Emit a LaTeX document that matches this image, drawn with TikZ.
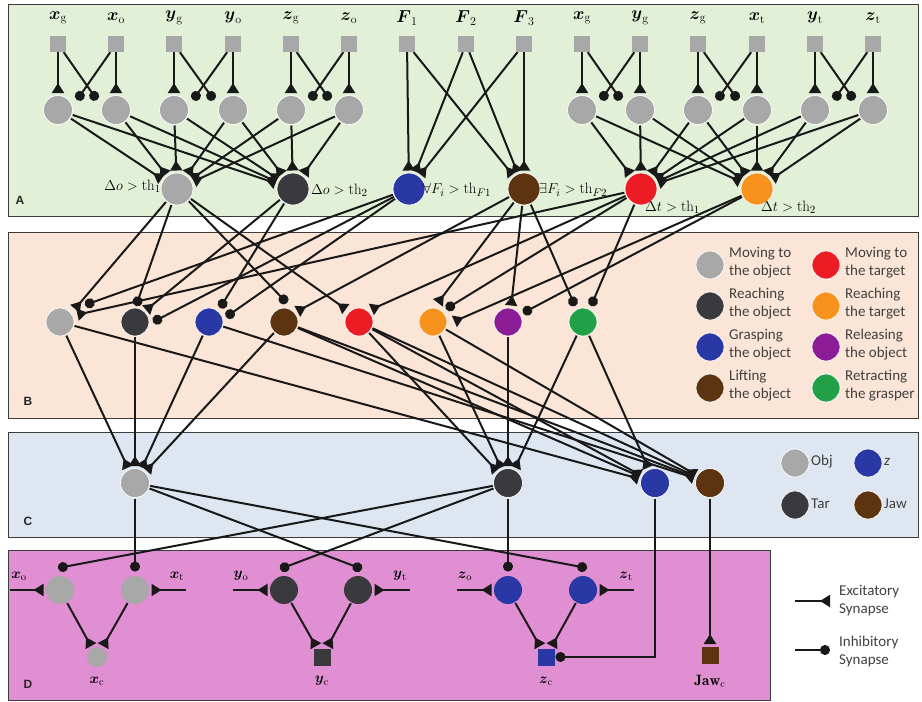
\documentclass[tikz,border=0pt]{standalone}
\usepackage{fontspec}
\usepackage{amsmath}
\usetikzlibrary{arrows.meta,calc}
\newfontfamily\legfont{Carlito}
\newfontfamily\panfont{Liberation Sans}
\definecolor{bgA}{RGB}{226,240,216}
\definecolor{bgB}{RGB}{251,229,214}
\definecolor{bgC}{RGB}{222,230,242}
\definecolor{bgD}{RGB}{224,144,210}
\definecolor{frm}{RGB}{60,60,60}
\definecolor{ngray}{RGB}{168,168,168}
\definecolor{ndark}{RGB}{58,58,62}
\definecolor{nblue}{RGB}{42,56,165}
\definecolor{nbrown}{RGB}{92,52,16}
\definecolor{nred}{RGB}{236,28,36}
\definecolor{norange}{RGB}{247,146,30}
\definecolor{npurple}{RGB}{140,28,150}
\definecolor{ngreen}{RGB}{34,160,72}
\definecolor{lnk}{RGB}{25,25,25}
\definecolor{legtxt}{RGB}{64,64,64}
\pgfdeclarelayer{bg}\pgfdeclarelayer{wires}\pgfsetlayers{bg,wires,main}
\begin{document}
\begin{tikzpicture}[x=1pt,y=-1pt,
 sqn/.style={rectangle,fill=ngray,minimum size=16pt,inner sep=0pt},
 neu/.style={circle,minimum size=29pt,inner sep=0pt,draw=white,line width=0.7pt,outer sep=1pt},
 thr/.style={neu,minimum size=32pt},
 bn/.style={neu,minimum size=28pt},
 csq/.style={rectangle,minimum size=17pt,inner sep=0pt,outer sep=1pt},
 exc/.style={draw=lnk,line width=2pt,-{Triangle[reversed,length=10pt,width=12pt]},shorten >=1.5pt},
 inh/.style={draw=lnk,line width=2pt,-{Circle[length=10pt]}},
 lab/.style={font=\fontsize{17}{20}\selectfont},
 dlab/.style={font=\fontsize{15}{18}\selectfont},
 tlab/.style={font=\fontsize{15}{17}\selectfont,inner sep=1pt},
 legt/.style={font=\legfont\fontsize{15}{18}\selectfont,text=legtxt,align=left,anchor=west,inner sep=0pt},
 panl/.style={font=\panfont\bfseries\fontsize{12}{14}\selectfont,text=black!85}
]
\useasboundingbox (0,0) rectangle (922,702);
% panels
\begin{pgfonlayer}{bg}
\filldraw[fill=bgA,draw=frm,line width=0.8pt] (8,4) rectangle (918,216);
\filldraw[fill=bgB,draw=frm,line width=0.8pt] (8,232) rectangle (918,418);
\filldraw[fill=bgC,draw=frm,line width=0.8pt] (8,432) rectangle (918,537);
\filldraw[fill=bgD,draw=frm,line width=0.8pt] (8,550) rectangle (770,700);
\end{pgfonlayer}
\node[panl] (pA) at (20,200) {A};
\node[panl] (pB) at (28,401) {B};
\node[panl] (pC) at (28,521) {C};
\node[panl] (pD) at (28,684) {D};

% ---------- panel A ----------
\foreach \i/\x/\t in {1/58/{\boldsymbol{x}_{\mathrm{g}}},2/116/{\boldsymbol{x}_{\mathrm{o}}},3/174/{\boldsymbol{y}_{\mathrm{g}}},4/233/{\boldsymbol{y}_{\mathrm{o}}},5/291/{\boldsymbol{z}_{\mathrm{g}}},6/349/{\boldsymbol{z}_{\mathrm{o}}},7/407/{\boldsymbol{F}_{1}},8/466/{\boldsymbol{F}_{2}},9/524/{\boldsymbol{F}_{3}},10/582/{\boldsymbol{x}_{\mathrm{g}}},11/640/{\boldsymbol{y}_{\mathrm{g}}},12/698/{\boldsymbol{z}_{\mathrm{g}}},13/757/{\boldsymbol{x}_{\mathrm{t}}},14/815/{\boldsymbol{y}_{\mathrm{t}}},15/873/{\boldsymbol{z}_{\mathrm{t}}}}
{
 \node[lab] (l\i) at (\x,18) {$\t$};
 \node[sqn] (s\i) at (\x,44) {};
}
\foreach \i/\x in {1/58,2/116,3/174,4/233,5/291,6/349,10/582,11/640,12/698,13/757,14/815,15/873}
 \node[neu,fill=ngray] (c\i) at (\x,110) {};

\node[thr,fill=ngray] (t1) at (177,189) {};
\node[thr,fill=ndark] (t2) at (293,189) {};
\node[thr,fill=nblue] (t3) at (409,189) {};
\node[thr,fill=nbrown] (t4) at (524,189) {};
\node[thr,fill=nred] (t5) at (641,189) {};
\node[thr,fill=norange] (t6) at (757,189) {};

\node[tlab,anchor=east] (th1) at (162,186) {$\Delta o > \mathrm{th}_1$};
\node[tlab,anchor=west] (th2) at (310,190) {$\Delta o > \mathrm{th}_2$};
\node[tlab,anchor=west] (th3) at (422,190) {$\forall F_i > \mathrm{th}_{F1}$};
\node[tlab,anchor=west] (th4) at (538,190) {$\exists F_i > \mathrm{th}_{F2}$};
\node[tlab,anchor=west] (th5) at (644,207) {$\Delta t > \mathrm{th}_1$};
\node[tlab,anchor=west] (th6) at (760,207) {$\Delta t > \mathrm{th}_2$};

\begin{pgfonlayer}{wires}
\foreach \p/\q in {1/2,3/4,5/6,10/11,12/13,14/15} {
 \draw[exc] (s\p) -- (c\p);
 \draw[exc] (s\q) -- (c\q);
 \draw[inh] (s\q) -- ($(c\p)+(19,-10)$);
 \draw[inh] (s\p) -- ($(c\q)+(-19,-10)$);
}
\foreach \i in {1,...,6} {\draw[exc] (c\i) -- (t1); \draw[exc] (c\i) -- (t2);}
\foreach \i in {10,...,15} {\draw[exc] (c\i) -- (t5); \draw[exc] (c\i) -- (t6);}
\foreach \i in {7,8,9} {\draw[exc] (s\i) -- (t3); \draw[exc] (s\i) -- (t4);}
\end{pgfonlayer}

% ---------- panel B ----------
\foreach \i/\x/\c in {1/60/ngray,2/135/ndark,3/209/nblue,4/284/nbrown,5/359/nred,6/433/norange,7/508/npurple,8/583/ngreen}
 \node[bn,fill=\c] (b\i) at (\x,322) {};

\foreach \n/\cx/\cy/\cc/\txt in {g1/710/265/ngray/{Moving to\\the object},g2/710/306/ndark/{Reaching\\the object},g3/710/347/nblue/{Grasping\\the object},g4/710/388/nbrown/{Lifting\\the object},g5/826/265/nred/{Moving to\\the target},g6/826/306/norange/{Reaching\\the target},g7/826/347/npurple/{Releasing\\the object},g8/826/388/ngreen/{Retracting\\the grasper}}
{
 \node[bn,fill=\cc] (L\n) at (\cx,\cy) {};
 \node[legt] (T\n) at (\cx+19,\cy-2) {\txt};
}

\begin{pgfonlayer}{wires}
\draw[exc] (t1) -- ($(b1)+(14,-12)$);
\draw[exc] (t5) -- ($(b1)+(16,-7)$);
\draw[inh] (t3) -- ($(b1)+(25,-17)$);
\draw[inh] (t1) -- ($(b2)+(1,-16)$);
\draw[exc] (t2) -- ($(b2)+(10,-11)$);
\draw[inh] (t3) -- ($(b2)+(18,0)$);
\draw[inh] (t2) -- ($(b3)+(11,-14)$);
\draw[inh] (t3) -- ($(b3)+(17,-5)$);
\draw[inh] (t1) -- ($(b4)+(3,-19)$);
\draw[exc] (t4) -- ($(b4)+(12,-10)$);
\draw[exc] (t1) -- ($(b5)+(-12,-12)$);
\draw[exc] (t5) -- ($(b5)+(11,-12)$);
\draw[exc] (t4) -- ($(b6)+(4,-18)$);
\draw[inh] (t5) -- ($(b6)+(13,-13)$);
\draw[exc] (t6) -- ($(b6)+(20,0)$);
\draw[exc] (t4) -- ($(b7)+(3,-15)$);
\draw[inh] (t6) -- ($(b7)+(15,-9)$);
\draw[inh] (t4) -- ($(b8)+(-8,-16)$);
\draw[inh] (t5) -- ($(b8)+(8,-16)$);
\end{pgfonlayer}

% ---------- panel C ----------
\node[neu,fill=ngray] (obj) at (135,483) {};
\node[neu,fill=ndark] (tar) at (508,483) {};
\node[neu,fill=nblue] (zz) at (655,483) {};
\node[neu,fill=nbrown] (jaw) at (710,483) {};

\node[bn,fill=ngray] (Lobj) at (795,463) {};
\node[bn,fill=nblue] (Lz) at (868,463) {};
\node[bn,fill=ndark] (Ltar) at (795,505) {};
\node[bn,fill=nbrown] (Ljaw) at (868,505) {};
\node[legt] (Tobj) at (811,462) {Obj};
\node[legt] (Tz) at (884,462) {\itshape z};
\node[legt] (Ttar) at (811,504) {Tar};
\node[legt] (Tjaw) at (884,504) {Jaw};

\begin{pgfonlayer}{wires}
\foreach \i in {1,2,3,4} \draw[exc] (b\i) -- (obj);
\foreach \i in {5,6,7,8} \draw[exc] (b\i) -- (tar);
\foreach \i in {1,4,5,8} \draw[exc] (b\i) -- (zz);
\foreach \i in {3,4,5,6} \draw[exc] (b\i) -- (jaw);
\end{pgfonlayer}

% ---------- panel D ----------
\foreach \i/\x/\c in {1/60/ngray,2/135/ngray,3/284/ndark,4/358/ndark,5/508/nblue,6/583/nblue}
 \node[bn,fill=\c,draw=none] (d\i) at (\x,590) {};
\node[circle,fill=ngray,minimum size=20pt,inner sep=0pt,outer sep=1pt] (xc) at (97,657) {};
\node[csq,fill=ndark] (yc) at (322,657) {};
\node[csq,fill=nblue] (zc) at (546,657) {};
\node[csq,fill=nbrown] (jawc) at (710,655) {};

\node[dlab] (lxc) at (97,681) {$\boldsymbol{x}_{\mathrm{c}}$};
\node[dlab] (lyc) at (322,681) {$\boldsymbol{y}_{\mathrm{c}}$};
\node[dlab] (lzc) at (546,681) {$\boldsymbol{z}_{\mathrm{c}}$};
\node[dlab] (ljc) at (710,681) {$\mathbf{Jaw}_{\mathrm{c}}$};

\foreach \n/\x/\t in {xo/19/{\boldsymbol{x}_{\mathrm{o}}},xt/177/{\boldsymbol{x}_{\mathrm{t}}},yo/241/{\boldsymbol{y}_{\mathrm{o}}},yt/400/{\boldsymbol{y}_{\mathrm{t}}},zo/465/{\boldsymbol{z}_{\mathrm{o}}},zt/626/{\boldsymbol{z}_{\mathrm{t}}}}
 \node[dlab] (L\n) at (\x,576) {$\t$};

\coordinate (ixo) at (10,590);
\coordinate (ixt) at (186,590);
\coordinate (iyo) at (233,590);
\coordinate (iyt) at (410,590);
\coordinate (izo) at (457,590);
\coordinate (izt) at (634,590);

% legend synapses
\coordinate (ex1) at (795,601); \coordinate (ex2) at (830,601);
\coordinate (in1) at (795,650); \coordinate (in2) at (830,650);
\node[legt] (Tex) at (839,601) {Excitatory\\Synapse};
\node[legt] (Tin) at (839,651) {Inhibitory\\Synapse};

\begin{pgfonlayer}{wires}
\draw[inh] (obj) -- ($(d2)+(0,-18.5)$);
\draw[inh] (obj) -- ($(d4)+(4,-21)$);
\draw[inh] (obj) -- ($(d6)+(4,-22)$);
\draw[inh] (tar) -- ($(d1)+(-2,-22)$);
\draw[inh] (tar) -- ($(d3)+(-4,-21)$);
\draw[inh] (tar) -- ($(d5)+(0,-18.5)$);
\draw[inh] (zz) |- (zc);
\draw[exc] (jaw) -- (jawc);
\draw[exc] (d1) -- (xc); \draw[exc] (d2) -- (xc);
\draw[exc] (d3) -- (yc); \draw[exc] (d4) -- (yc);
\draw[exc] (d5) -- (zc); \draw[exc] (d6) -- (zc);
\draw[exc] (ixo) -- (d1); \draw[exc] (ixt) -- (d2);
\draw[exc] (iyo) -- (d3); \draw[exc] (iyt) -- (d4);
\draw[exc] (izo) -- (d5); \draw[exc] (izt) -- (d6);
\draw[exc,shorten >=0pt] (ex1) -- (ex2);
\draw[inh] (in1) -- (in2);
\end{pgfonlayer}
\end{tikzpicture}
\end{document}
